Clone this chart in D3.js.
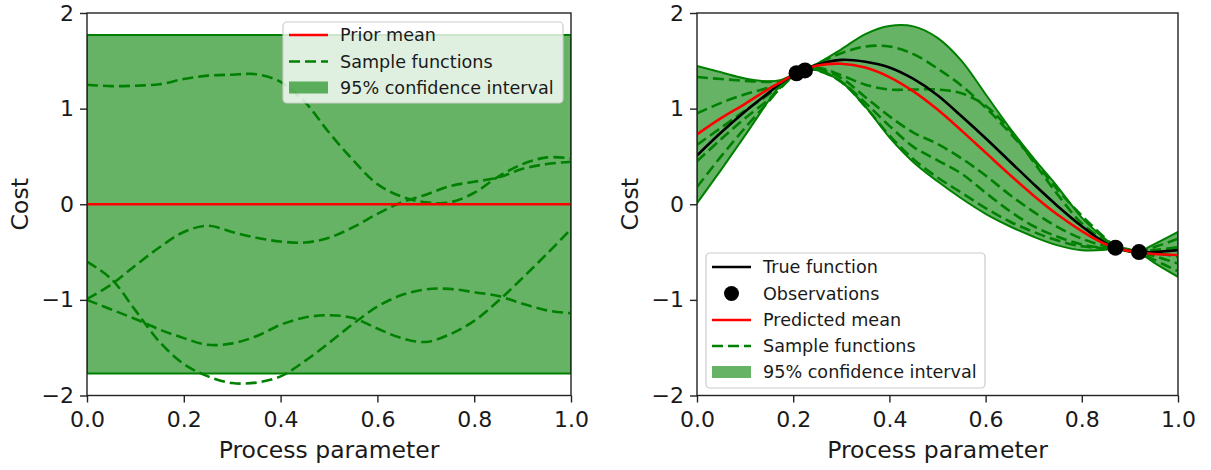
<!DOCTYPE html>
<html><head><meta charset="utf-8">
<script src="https://cdn.jsdelivr.net/npm/d3@7"></script>
<style>
body{margin:0;background:#fff}
svg{display:block}
text{font-family:"DejaVu Sans",sans-serif;fill:#1a1a1a}
</style>
</head><body>
<svg id="c" width="1211" height="470"></svg>
<script>
// ---------- tick labels ----------
const xTicks = [0, 0.2, 0.4, 0.6, 0.8, 1.0];
const yTicks = [-2, -1, 0, 1, 2];
const xLabel = "Process parameter";
const yLabel = "Cost";

// ---------- left panel (prior) ----------
const xsL = [0,0.05,0.1,0.15,0.2,0.25,0.3,0.35,0.4,0.45,0.5,0.55,0.6,0.65,0.7,0.75,0.8,0.85,0.9,0.95,1.0];
const priorX = [0, 1];
const priorMean = [0, 0];
const priorUpper = [1.77, 1.77];
const priorLower = [-1.77, -1.77];
const priorSampleA = [1.25,1.235,1.24,1.255,1.31,1.345,1.355,1.36,1.28,1.07,0.75,0.46,0.21,0.08,0.02,0.02,0.12,0.29,0.42,0.49,0.48];
const priorSampleB = [-0.99,-0.84,-0.64,-0.45,-0.29,-0.225,-0.29,-0.35,-0.39,-0.40,-0.35,-0.24,-0.10,0.02,0.10,0.19,0.235,0.28,0.37,0.42,0.445];
const priorSampleC = [-0.60,-0.78,-1.11,-1.44,-1.67,-1.80,-1.87,-1.865,-1.80,-1.64,-1.45,-1.25,-1.07,-0.95,-0.89,-0.885,-0.92,-0.96,-1.04,-1.11,-1.14];
const priorSampleD = [-1.0,-1.10,-1.20,-1.31,-1.40,-1.47,-1.455,-1.38,-1.26,-1.185,-1.16,-1.19,-1.30,-1.40,-1.44,-1.36,-1.22,-1.01,-0.77,-0.52,-0.26];
const legendLeft = ["Prior mean", "Sample functions", "95% confidence interval"];

// ---------- right panel (posterior) ----------
const xsR = [0,0.05,0.1,0.15,0.175,0.207,0.225,0.25,0.3,0.35,0.4,0.45,0.5,0.55,0.6,0.65,0.7,0.75,0.8,0.85,0.87,0.895,0.919,0.95,1.0];
const trueFn   = [0.51,0.75,0.97,1.17,1.27,1.37,1.41,1.46,1.51,1.49,1.43,1.31,1.14,0.92,0.69,0.45,0.21,-0.02,-0.23,-0.41,-0.455,-0.485,-0.50,-0.50,-0.48];
const predMean = [0.73,0.90,1.05,1.21,1.28,1.37,1.41,1.45,1.47,1.43,1.33,1.18,0.99,0.77,0.54,0.31,0.09,-0.11,-0.28,-0.42,-0.455,-0.485,-0.505,-0.52,-0.53];
const ciUpper  = [1.445,1.38,1.315,1.285,1.30,1.375,1.415,1.47,1.62,1.78,1.865,1.86,1.74,1.50,1.15,0.80,0.48,0.18,-0.14,-0.37,-0.445,-0.465,-0.49,-0.42,-0.29];
const ciLower  = [0.01,0.36,0.72,1.09,1.25,1.365,1.405,1.40,1.28,1.02,0.70,0.44,0.24,0.06,-0.10,-0.23,-0.34,-0.43,-0.48,-0.475,-0.46,-0.495,-0.51,-0.61,-0.76];
const postS1 = [1.33,1.31,1.29,1.28,1.29,1.37,1.41,1.47,1.58,1.65,1.65,1.57,1.42,1.24,1.01,0.75,0.46,0.15,-0.12,-0.36,-0.44,-0.47,-0.495,-0.45,-0.36];
const postS2 = [0.95,1.06,1.15,1.22,1.26,1.37,1.41,1.43,1.35,1.25,1.20,1.20,1.20,1.16,1.03,0.78,0.44,0.10,-0.20,-0.39,-0.45,-0.48,-0.50,-0.54,-0.62];
const postS3 = [0.62,0.80,0.98,1.15,1.24,1.37,1.41,1.42,1.32,1.12,0.92,0.75,0.63,0.48,0.30,0.10,-0.08,-0.24,-0.36,-0.44,-0.455,-0.485,-0.505,-0.58,-0.70];
const postS4 = [0.45,0.68,0.90,1.10,1.22,1.37,1.41,1.41,1.28,1.06,0.82,0.60,0.46,0.32,0.12,-0.07,-0.23,-0.34,-0.42,-0.46,-0.46,-0.48,-0.50,-0.48,-0.45];
const postS5 = [0.18,0.50,0.80,1.08,1.23,1.37,1.41,1.40,1.28,1.02,0.72,0.47,0.28,0.12,-0.04,-0.18,-0.29,-0.38,-0.44,-0.46,-0.46,-0.49,-0.51,-0.51,-0.55];
const obsX = [0.207, 0.2245, 0.870, 0.919];
const obsY = [1.37, 1.40, -0.454, -0.50];
const legendRight = ["True function", "Observations", "Predicted mean", "Sample functions", "95% confidence interval"];

// ---------- drawing ----------
const GREEN = "#008000", RED = "#ff0000", BLACK = "#000000";
const svg = d3.select("#c");
const yTop = 13, yBot = 395.5;
const curve = d3.curveCatmullRom.alpha(0.5);

function makePanel(id, x0, x1) {
  const x = d3.scaleLinear().domain([0, 1]).range([x0, x1]);
  const y = d3.scaleLinear().domain([-2, 2]).range([yBot, yTop]);
  const g = svg.append("g");
  svg.append("defs").append("clipPath").attr("id", "clip" + id)
    .append("rect").attr("x", x0).attr("y", yTop).attr("width", x1 - x0).attr("height", yBot - yTop);
  const plot = g.append("g").attr("clip-path", `url(#clip${id})`);
  return {x, y, g, plot, x0, x1};
}

function pts(xs, ys) { return xs.map((v, i) => [v, ys[i]]); }

function drawBand(p, xs, lo, hi) {
  const data = xs.map((v, i) => ({x: v, lo: lo[i], hi: hi[i]}));
  p.plot.append("path").datum(data)
    .attr("d", d3.area().curve(curve).x(d => p.x(d.x)).y0(d => p.y(d.lo)).y1(d => p.y(d.hi)))
    .attr("fill", GREEN).attr("fill-opacity", 0.6)
    .attr("stroke", GREEN).attr("stroke-width", 2);
}
function drawLine(p, xs, ys, color, dashed) {
  const line = d3.line().curve(curve).x(d => p.x(d[0])).y(d => p.y(d[1]));
  p.plot.append("path").datum(pts(xs, ys)).attr("d", line)
    .attr("fill", "none").attr("stroke", color).attr("stroke-width", 2.6)
    .attr("stroke-dasharray", dashed ? "11,5" : null);
}

function drawAxes(p, ylabX) {
  const xa = p.g.append("g").attr("transform", `translate(0,${yBot})`)
    .call(d3.axisBottom(p.x).tickValues(xTicks).tickFormat(d3.format(".1f")).tickSize(7).tickPadding(9));
  const ya = p.g.append("g").attr("transform", `translate(${p.x0},0)`)
    .call(d3.axisLeft(p.y).tickValues(yTicks).tickFormat(d3.format("d")).tickSize(7).tickPadding(6));
  [xa, ya].forEach(a => {
    a.select(".domain").remove();
    a.attr("font-size", 22).attr("font-family", "DejaVu Sans").attr("color", "#1a1a1a");
    a.selectAll(".tick line").attr("stroke", "#222").attr("stroke-width", 1.4);
  });
  p.g.append("rect").attr("x", p.x0).attr("y", yTop).attr("width", p.x1 - p.x0).attr("height", yBot - yTop)
    .attr("fill", "none").attr("stroke", "#222").attr("stroke-width", 1.4);
  p.g.append("text").attr("x", (p.x0 + p.x1) / 2).attr("y", 458).attr("text-anchor", "middle")
    .attr("font-size", 23.5).text(xLabel);
  p.g.append("text").attr("transform", `translate(${ylabX},${p.y(0)}) rotate(-90)`)
    .attr("text-anchor", "middle").attr("dy", "0.35em").attr("font-size", 23.5).text(yLabel);
}

function drawLegend(p, bx, by, bw, bh, rowYs, labels, kinds) {
  const g = p.g.append("g");
  g.append("rect").attr("x", bx).attr("y", by).attr("width", bw).attr("height", bh)
    .attr("rx", 4).attr("fill", "#fff").attr("fill-opacity", 0.8).attr("stroke", "#cccccc").attr("stroke-width", 1.2);
  const hx0 = bx + 6, hx1 = bx + 45, tx = bx + 57;
  labels.forEach((lab, i) => {
    const yy = rowYs[i], k = kinds[i];
    if (k === "line" || k === "red" || k === "dash") {
      g.append("line").attr("x1", hx0).attr("x2", hx1).attr("y1", yy).attr("y2", yy)
        .attr("stroke", k === "line" ? BLACK : k === "red" ? RED : GREEN).attr("stroke-width", 2.6)
        .attr("stroke-dasharray", k === "dash" ? "11,5" : null);
    } else if (k === "dot") {
      g.append("circle").attr("cx", (hx0 + hx1) / 2).attr("cy", yy).attr("r", 7.5).attr("fill", BLACK);
    } else if (k === "fill") {
      g.append("rect").attr("x", hx0).attr("y", yy - 6).attr("width", hx1 - hx0).attr("height", 12)
        .attr("fill", GREEN).attr("fill-opacity", 0.6);
    }
    g.append("text").attr("x", tx).attr("y", yy).attr("dy", "0.36em").attr("font-size", 17.6).text(lab);
  });
}

// Left panel
const L = makePanel("L", 87, 571);
drawBand(L, priorX, priorLower, priorUpper);
[priorSampleA, priorSampleB, priorSampleC, priorSampleD].forEach(s => drawLine(L, xsL, s, GREEN, true));
drawLine(L, priorX, priorMean, RED, false);
drawAxes(L, 20);
drawLegend(L, 283, 22, 280, 81, [35, 61.5, 87.5], legendLeft, ["red", "dash", "fill"]);

// Right panel
const R = makePanel("R", 697, 1178);
drawBand(R, xsR, ciLower, ciUpper);
[postS1, postS2, postS3, postS4, postS5].forEach(s => drawLine(R, xsR, s, GREEN, true));
drawLine(R, xsR, trueFn, BLACK, false);
drawLine(R, xsR, predMean, RED, false);
R.plot.selectAll("circle.obs").data(obsX).enter().append("circle").attr("class", "obs")
  .attr("cx", d => R.x(d)).attr("cy", (d, i) => R.y(obsY[i])).attr("r", 8).attr("fill", BLACK);
drawAxes(R, 630);
drawLegend(R, 706, 253, 279, 135, [267, 293.5, 320, 346, 372], legendRight, ["line", "dot", "red", "dash", "fill"]);
</script>
</body></html>
